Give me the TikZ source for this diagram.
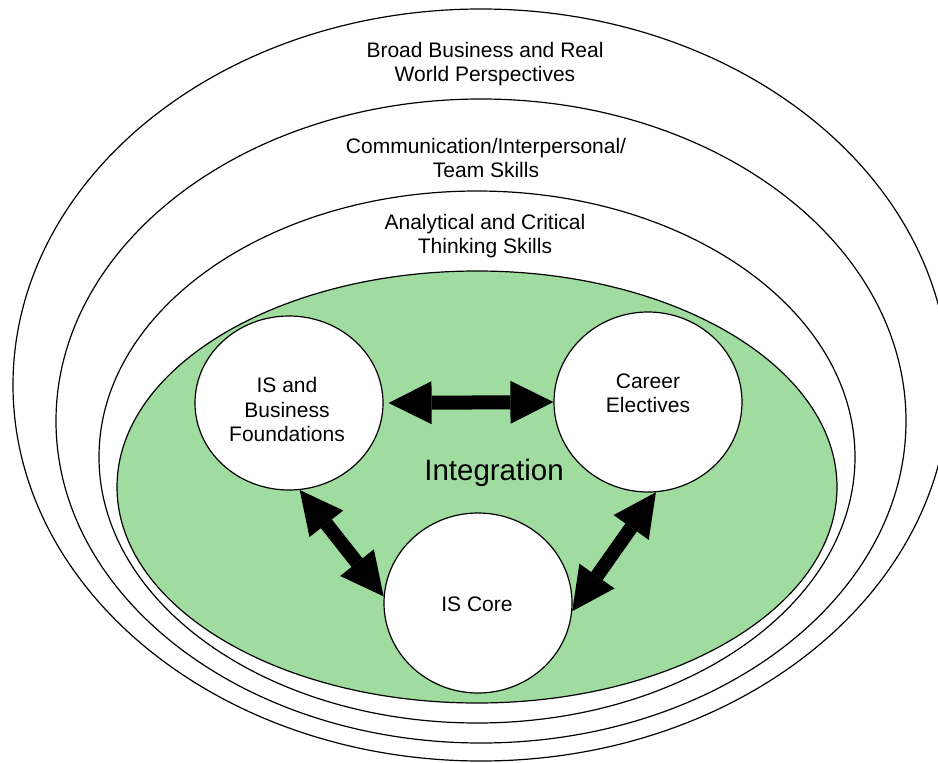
\documentclass[tikz,border=0pt]{standalone}
\usepackage{fontspec}
\setmainfont{Liberation Sans}
\usetikzlibrary{arrows.meta,shapes.geometric,calc}
\definecolor{intgreen}{RGB}{160,220,160}
\begin{document}
\begin{tikzpicture}[x=1pt,y=-1pt,
  ring/.style={draw, ellipse, line width=1.2pt, inner sep=0pt},
  bubble/.style={draw, ellipse, fill=white, line width=1.2pt, inner sep=0pt, minimum width=188pt},
  lbl/.style={align=center, font=\fontsize{21}{24.5}\selectfont, inner sep=0pt},
  dbl/.style={line width=14pt, {Triangle[length=43pt,width=43pt,line width=0pt]}-{Triangle[length=43pt,width=43pt,line width=0pt]}}
]
\useasboundingbox (0,0) rectangle (938,763);
\clip (0,0) rectangle (938,763);
% concentric rings
\node[ring, minimum width=936pt, minimum height=752pt] (r1) at (481,385) {};
\node[ring, minimum width=850pt, minimum height=644pt] (r2) at (481,421) {};
\node[ring, minimum width=756pt, minimum height=532pt] (r3) at (477,457) {};
\node[ring, fill=intgreen, minimum width=720pt, minimum height=432pt] (r4) at (477,487) {};
% ring labels
\node[lbl] (t1) at (485,64) {Broad Business and Real\\World Perspectives};
\node[lbl] (t2) at (486,158) {Communication/Interpersonal/\\Team Skills};
\node[lbl] (t3) at (485,236) {Analytical and Critical\\Thinking Skills};
\node[lbl, anchor=base, font=\fontsize{29.5}{34}\selectfont] (t4) at (494,480) {Integration};
% bubbles
\node[bubble, minimum height=174pt] (A) at (289,403) {};
\node[bubble, minimum height=180pt] (B) at (648,402) {};
\node[bubble, minimum height=180pt] (C) at (478,603) {};
\node[lbl] (ta) at ($(A)+(-2,6.5)$) {IS and\\Business\\Foundations};
\node[lbl] (tb) at ($(B)+(0,-8.5)$) {Career\\Electives};
\node[lbl] (tc) at ($(C)+(-1,1)$) {IS Core};
% arrows
\draw[dbl] ([xshift=5pt]A.east) -- (B.west);
\draw[dbl] (A.-83) -- (C.176);
\draw[dbl] (B.-85) -- (C.-5);
\end{tikzpicture}
\end{document}
